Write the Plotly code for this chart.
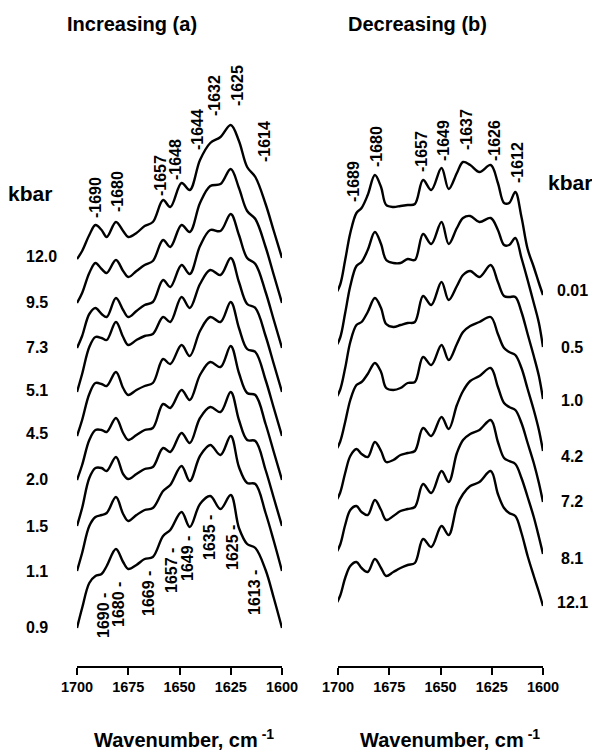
import plotly.graph_objects as go

W, H = 592, 753

# ---------------- data ----------------
# Panel (a): increasing pressure, wavenumber grid (cm-1) and band heights (arb. units)
wn_a = [1700, 1697.5, 1694, 1691, 1688, 1685.5, 1681, 1677.5, 1675, 1671, 1667, 1663,
        1658, 1654.5, 1649, 1645, 1640, 1635, 1630, 1625, 1621, 1617, 1613, 1608, 1604, 1600]
p_a = ["12.0", "9.5", "7.3", "5.1", "4.5", "2.0", "1.5", "1.1", "0.9"]
a_12_0 = [0, 8, 24, 34, 29, 22, 37, 28, 22, 26, 33, 37, 59, 52, 76, 69, 99, 116, 122, 134, 118, 92, 82, 55, 28, 1]
a_9_5 = [0, 10, 30, 40, 34, 30, 43, 32, 26, 32, 38, 42, 63, 56, 78, 71, 100, 117, 119, 134, 115, 92, 84, 56, 28, 0]
a_7_3 = [0, 12, 34, 40, 34, 31, 50, 38, 31, 37, 43, 46, 68, 61, 83, 74, 102, 118, 117, 134, 113, 90, 84, 56, 28, 0]
a_5_1 = [0, 18, 45, 55, 54, 52, 70, 55, 47, 52, 56, 58, 75, 70, 95, 84, 108, 122, 117, 134, 110, 88, 84, 56, 28, 0]
a_4_5 = [0, 16, 42, 53, 52, 50, 64, 48, 41, 46, 50, 53, 77, 72, 91, 80, 105, 119, 114, 134, 108, 87, 84, 56, 28, 0]
a_2_0 = [0, 15, 40, 50, 50, 48, 62, 47, 40, 45, 50, 52, 76, 72, 90, 80, 105, 118, 113, 134, 107, 87, 85, 56, 28, 0]
a_1_5 = [0, 18, 48, 58, 58, 55, 69, 52, 47, 52, 57, 59, 78, 74, 93, 83, 108, 119, 114, 134, 106, 86, 85, 56, 28, 0]
a_1_1 = [0, 18, 45, 54, 56, 58, 74, 57, 50, 56, 61, 63, 80, 86, 105, 90, 115, 126, 116, 135, 104, 88, 87, 58, 30, 0]
a_0_9 = [0, 20, 45, 52, 54, 62, 79, 66, 59, 63, 69, 71, 92, 98, 116, 101, 124, 132, 119, 133, 100, 84, 80, 58, 30, 0]
series_a = [a_12_0, a_9_5, a_7_3, a_5_1, a_4_5, a_2_0, a_1_5, a_1_1, a_0_9]

# Panel (b): decreasing pressure
wn_b = [1701.5, 1699, 1696.5, 1694, 1691, 1688.5, 1685.5, 1682, 1679, 1676.5, 1673, 1669.5,
        1666, 1662.5, 1658.5, 1654.5, 1649.5, 1646, 1642, 1639, 1635.5, 1631, 1625.5, 1622,
        1619, 1616.5, 1613.5, 1610.5, 1607.5, 1604.5, 1602, 1600]
p_b = ["0.01", "0.5", "1.0", "4.2", "7.2", "8.1", "12.1"]
b_0_01 = [0, 10, 35, 62, 82, 87, 100, 120, 108, 90, 88, 89, 90, 91, 115, 105, 127, 106, 122, 133, 130, 123, 130, 112, 92, 92, 103, 78, 46, 28, 12, 0]
b_0_5 = [0, 10, 35, 62, 82, 86, 98, 116, 104, 88, 85, 85, 89, 88, 114, 104, 126, 104, 120, 130, 132, 126, 130, 118, 103, 103, 110, 90, 68, 45, 25, 1]
b_1_0 = [0, 10, 32, 58, 75, 78, 88, 102, 92, 76, 73, 75, 77, 78, 104, 95, 118, 100, 114, 125, 129, 123, 135, 118, 104, 103, 103, 88, 66, 44, 24, 1]
b_4_2 = [0, 10, 30, 52, 67, 70, 78, 89, 80, 64, 62, 64, 69, 70, 95, 87, 107, 92, 108, 120, 126, 130, 135, 118, 104, 100, 97, 84, 63, 42, 22, 1]
b_7_2 = [0, 10, 30, 47, 54, 49, 46, 61, 52, 41, 43, 48, 50, 52, 75, 67, 86, 74, 98, 112, 122, 127, 135, 116, 100, 96, 93, 80, 60, 40, 20, 1]
b_8_1 = [0, 10, 30, 45, 49, 43, 40, 55, 45, 35, 39, 44, 46, 48, 71, 62, 84, 73, 102, 115, 121, 125, 135, 113, 97, 94, 91, 77, 58, 38, 18, 1]
b_12_1 = [0, 10, 28, 40, 44, 38, 34, 47, 38, 30, 34, 38, 41, 43, 67, 59, 80, 71, 100, 112, 120, 124, 135, 112, 98, 93, 90, 73, 50, 30, 14, 0]
series_b = [b_0_01, b_0_5, b_1_0, b_4_2, b_7_2, b_8_1, b_12_1]

# band labels
top_a = ["1690", "1680", "1657", "1648", "1644", "1632", "1625", "1614"]
bot_a = ["1690", "1680", "1669", "1657", "1649", "1635", "1625", "1613"]
top_b = ["1689", "1680", "1657", "1649", "1637", "1626", "1612"]
ticks = [1700, 1675, 1650, 1625, 1600]

# ---------------- layout constants (pixels from top-left) ----------------
base_a = [259, 303, 348, 392, 436, 480, 526, 571, 628]
base_b = [295, 348, 400, 452, 503, 555, 606]
lab_a_y = [257, 302, 347, 390, 433, 479, 526, 571, 627]
lab_b_y = [290, 347, 400, 456, 501, 558, 602]
top_a_pos = [(95, 198), (117, 192), (160, 176), (175, 160), (197, 130), (214, 96), (237, 86), (264, 142)]
bot_a_pos = [(103, 616), (118, 605), (148, 594), (171, 571), (187, 559), (209, 537), (232, 548), (254, 593)]
top_b_pos = [(353, 182), (376, 147), (421, 152), (443, 141), (466, 130), (494, 141), (517, 163)]
AX_Y = 667
FONT = "Liberation Sans, Arial, sans-serif"


def px(x):
    return x / W


def py(y):
    return 1 - y / H


fig = go.Figure()
line = dict(color="black", width=2.4, shape="spline", smoothing=1.0)
for h, b0 in zip(series_a, base_a):
    fig.add_trace(go.Scatter(x=wn_a, y=[H - b0 + v for v in h], mode="lines",
                             line=line, xaxis="x", yaxis="y", showlegend=False, hoverinfo="skip"))
for h, b0 in zip(series_b, base_b):
    fig.add_trace(go.Scatter(x=wn_b, y=[H - b0 + v for v in h], mode="lines",
                             line=line, xaxis="x2", yaxis="y", showlegend=False, hoverinfo="skip"))

ann = []


def text(x, y, s, size, angle=0, xanchor="center"):
    ann.append(dict(x=px(x), y=py(y), xref="paper", yref="paper", text=s, showarrow=False,
                    textangle=angle, xanchor=xanchor, yanchor="middle",
                    font=dict(family=FONT, size=size, color="black", weight="bold")))


text(132, 24, "Increasing (a)", 20)
text(418, 24, "Decreasing (b)", 20)
text(30, 193, "kbar", 21)
text(570, 182, "kbar", 21)
for s, y in zip(p_a, lab_a_y):
    text(24, y, s, 16, xanchor="left")
for s, y in zip(p_b, lab_b_y):
    text(572, y, s, 16)
for s, (x, y) in zip(top_a, top_a_pos):
    text(x, y, "-" + s, 16, angle=-90)
for s, (x, y) in zip(bot_a, bot_a_pos):
    text(x, y, s + " -", 16, angle=-90)
for s, (x, y) in zip(top_b, top_b_pos):
    text(x, y, "-" + s, 16, angle=-90)
text(184, 738, "Wavenumber, cm<sup> -1</sup>", 20)
text(450, 738, "Wavenumber, cm<sup> -1</sup>", 20)

xax = dict(range=[1700, 1600], tickvals=ticks, ticktext=[str(t) for t in ticks],
           showline=True, linecolor="black", linewidth=2, ticks="outside", ticklen=7,
           tickwidth=2, tickcolor="black", showgrid=False, zeroline=False,
           anchor="free", position=1 - AX_Y / H, automargin=False, fixedrange=True,
           tickfont=dict(family=FONT, size=14.5, color="black", weight="bold"))
fig.update_layout(
    template="none",
    width=W, height=H, margin=dict(l=0, r=0, t=0, b=0, pad=0, autoexpand=False),
    paper_bgcolor="white", plot_bgcolor="white",
    xaxis=dict(domain=[77 / W, 282 / W], **xax),
    xaxis2=dict(domain=[338 / W, 543 / W], **xax),
    yaxis=dict(range=[0, H], domain=[0, 1], visible=False, fixedrange=True,
               automargin=False, showgrid=False, zeroline=False),
    annotations=ann,
    hovermode=False,
)
fig.write_html("out.html", config={"displayModeBar": False, "staticPlot": True},
               post_script="document.body.style.margin='0px';document.body.style.overflow='hidden';")
